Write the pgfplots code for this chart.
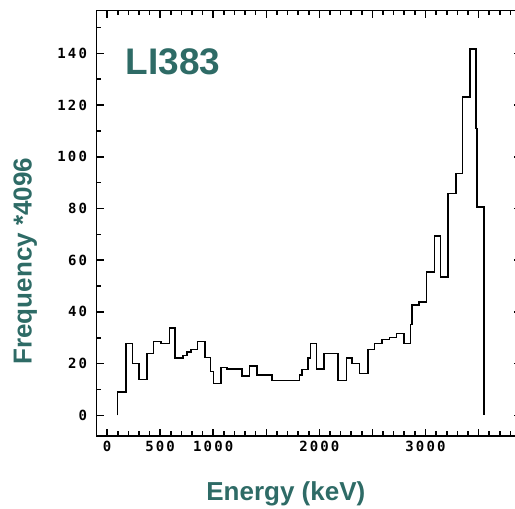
\documentclass[border=0pt]{standalone}
\usepackage{pgfplots}
\pgfplotsset{compat=1.18}
\usepackage{fontspec}
\setmainfont{Liberation Sans}
\newfontfamily\tickfont[LetterSpace=15]{DejaVu Sans Mono}
\definecolor{labelteal}{RGB}{46,107,102}

% Energy spectrum of LI383: bin left edge (keV) and frequency (*4096)
\pgfplotstableread{
E      f
97     0
97     9.0
176    27.7
239    20.0
302    13.9
375    23.9
437    28.6
509    27.7
588    33.8
642    22.2
714    23.2
752    24.5
792    25.5
850    28.6
925    22.3
975    17.0
1003   12.3
1075   18.5
1129   17.8
1271   15.2
1342   19.1
1412   15.5
1554   13.5
1814   15.5
1837   17.7
1893   22.2
1915   27.7
1972   17.8
2041   23.9
2176   13.5
2255   22.2
2308   20.0
2380   16.1
2456   25.5
2519   27.7
2592   29.3
2660   30.1
2726   31.6
2795   27.7
2858   35.2
2874   42.6
2937   43.8
3009   55.4
3085   69.4
3142   53.5
3212   85.8
3290   93.5
3348   123.1
3418   141.6
3478   110.9
3488   80.6
3554   80.6
3554   0
}\spectrum

\begin{document}
\begin{tikzpicture}
\path[use as bounding box] (0,0) rectangle (515pt,509pt);
\begin{axis}[
  at={(96.5pt,73pt)}, anchor=south west,
  scale only axis, width=424.5pt, height=425.3pt,
  xmin=-100, xmax=3900, ymin=-8, ymax=156.5,
  xtick={0,500,...,3500},
  xticklabels={0,500,1000,,2000,,3000,},
  minor xtick={-100,0,...,3800},
  ytick={0,20,...,140},
  yticklabels={0,20,40,60,80,100,120,140},
  minor ytick={-10,0,...,150},
  xtick pos=both, ytick pos=both,
  tick align=inside,
  major tick length=7pt, minor tick length=4.5pt,
  axis line style={line width=1.5pt, black},
  major tick style={line width=1.6pt, black},
  minor tick style={line width=1.6pt, black},
  /pgf/number format/assume math mode=true,
  ticklabel style={font=\tickfont\bfseries\fontsize{14}{14}\selectfont},
  xticklabel style={yshift=-2pt},
  yticklabel style={xshift=-6pt},
  xlabel={Energy (keV)},
  xlabel style={at={(axis description cs:0.446,-0.136)}, anchor=center,
    font=\bfseries\fontsize{26}{26}\selectfont, text=labelteal},
  ylabel={Frequency *4096},
  ylabel style={at={(axis description cs:-0.168,0.411)}, anchor=center,
    font=\bfseries\fontsize{26}{26}\selectfont, text=labelteal},
]
\addplot[const plot, line width=1.6pt, black] table[x=E, y=f] {\spectrum};
\node[anchor=base west, inner sep=0pt, text=labelteal,
  font=\bfseries\fontsize{37}{37}\selectfont] at (rel axis cs:0.068,0.851) {LI383};
\end{axis}
\end{tikzpicture}
\end{document}
